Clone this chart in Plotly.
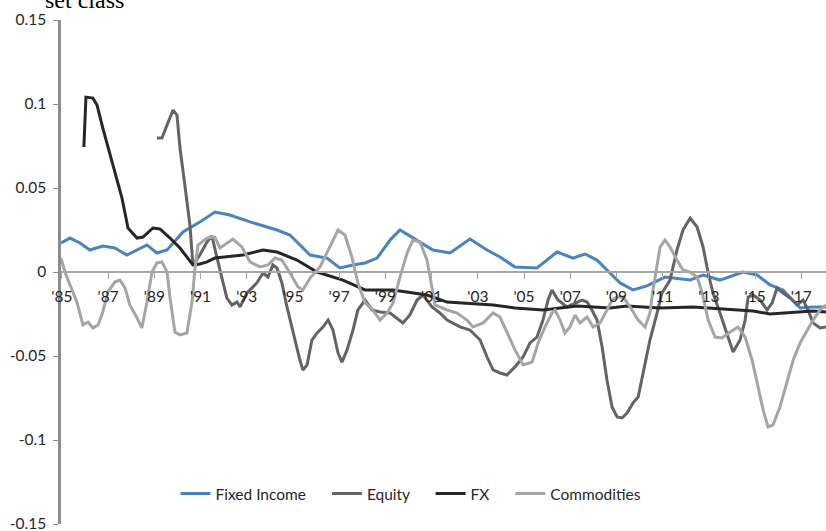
import plotly.graph_objects as go

# ---- data (decimal year, value) ----
fi_years = [1984.96, 1985.35, 1985.78, 1986.21, 1986.77, 1987.29, 1987.81, 1988.25, 1988.68, 1989.11,
            1989.55, 1990.24, 1990.97, 1991.62, 1992.27, 1993.14, 1994.31, 1994.87, 1995.74, 1996.47,
            1997.03, 1997.60, 1998.12, 1998.64, 1999.20, 1999.63, 2000.19, 2001.06, 2001.80, 2002.66,
            2003.40, 2003.96, 2004.61, 2005.56, 2006.43, 2007.12, 2007.64, 2008.16, 2008.72, 2009.16,
            2009.72, 2010.32, 2011.10, 2012.19, 2012.75, 2013.48, 2014.48, 2015.09, 2015.65, 2016.21,
            2016.95, 2017.51, 2018.07]
fi_values = [0.0173, 0.0202, 0.0173, 0.0131, 0.0155, 0.0143, 0.0101, 0.0131, 0.0161, 0.0113,
             0.0131, 0.0238, 0.0298, 0.0357, 0.0339, 0.0298, 0.0250, 0.0220, 0.0101, 0.0083,
             0.0024, 0.0042, 0.0054, 0.0083, 0.0190, 0.0250, 0.0202, 0.0131, 0.0113, 0.0196,
             0.0131, 0.0089, 0.0030, 0.0024, 0.0119, 0.0083, 0.0107, 0.0071, -0.0006, -0.0065,
             -0.0107, -0.0083, -0.0030, -0.0048, -0.0018, -0.0048, 0.0000, -0.0018, -0.0077, -0.0107,
             -0.0214, -0.0208, -0.0208]

eq_years = [1989.11, 1989.33, 1989.55, 1989.81, 1989.98, 1990.11, 1990.32, 1990.54, 1990.67, 1990.97,
            1991.28, 1991.49, 1991.84, 1992.14, 1992.36, 1992.58, 1992.71, 1993.01, 1993.44, 1993.70,
            1993.92, 1994.13, 1994.31, 1994.52, 1994.74, 1995.00, 1995.30, 1995.43, 1995.61, 1995.82,
            1996.04, 1996.30, 1996.52, 1996.73, 1996.95, 1997.12, 1997.34, 1997.60, 1997.81, 1998.12,
            1998.42, 1998.77, 1999.20, 1999.76, 2000.06, 2000.37, 2000.63, 2001.02, 2001.36, 2001.67,
            2002.23, 2002.66, 2003.10, 2003.40, 2003.66, 2003.96, 2004.26, 2004.61, 2004.96, 2005.26,
            2005.56, 2005.82, 2006.04, 2006.21, 2006.47, 2006.86, 2007.21, 2007.51, 2007.73, 2007.94,
            2008.16, 2008.38, 2008.59, 2008.81, 2009.03, 2009.24, 2009.46, 2009.72, 2009.94, 2010.15,
            2010.45, 2010.76, 2010.97, 2011.32, 2011.62, 2011.88, 2012.19, 2012.49, 2012.75, 2012.97,
            2013.18, 2013.48, 2013.79, 2014.05, 2014.35, 2014.57, 2014.70, 2014.91, 2015.22, 2015.52,
            2015.74, 2015.95, 2016.21, 2016.52, 2016.82, 2017.08, 2017.29, 2017.51, 2017.81, 2018.07]
eq_values = [0.0797, 0.0797, 0.0875, 0.0964, 0.0934, 0.0738, 0.0518, 0.0280, 0.0042, 0.0101,
             0.0179, 0.0214, 0.0012, -0.0155, -0.0196, -0.0179, -0.0208, -0.0125, -0.0065, -0.0006,
             -0.0030, 0.0042, 0.0024, -0.0065, -0.0208, -0.0363, -0.0524, -0.0583, -0.0553, -0.0405,
             -0.0363, -0.0327, -0.0286, -0.0345, -0.0482, -0.0536, -0.0464, -0.0345, -0.0226, -0.0167,
             -0.0226, -0.0238, -0.0244, -0.0303, -0.0256, -0.0167, -0.0137, -0.0208, -0.0244, -0.0286,
             -0.0327, -0.0345, -0.0405, -0.0506, -0.0583, -0.0601, -0.0613, -0.0565, -0.0506, -0.0422,
             -0.0387, -0.0286, -0.0167, -0.0107, -0.0167, -0.0208, -0.0184, -0.0167, -0.0179, -0.0226,
             -0.0286, -0.0446, -0.0643, -0.0803, -0.0863, -0.0869, -0.0839, -0.0779, -0.0744, -0.0601,
             -0.0405, -0.0244, -0.0125, -0.0048, 0.0131, 0.0250, 0.0321, 0.0268, 0.0149, -0.0006,
             -0.0125, -0.0244, -0.0363, -0.0476, -0.0405, -0.0286, -0.0149, -0.0137, -0.0167, -0.0226,
             -0.0184, -0.0095, -0.0125, -0.0155, -0.0196, -0.0167, -0.0226, -0.0303, -0.0333, -0.0327]

fx_years = [1985.95, 1986.04, 1986.34, 1986.52, 1986.77, 1987.21, 1987.60, 1987.86, 1988.25, 1988.51,
            1988.94, 1989.24, 1989.68, 1990.11, 1990.67, 1990.97, 1991.28, 1991.62, 1992.84, 1993.70,
            1994.31, 1995.17, 1996.04, 1997.16, 1998.12, 1999.33, 2000.80, 2001.67, 2003.66, 2004.61,
            2005.82, 2007.29, 2008.72, 2009.46, 2010.89, 2012.32, 2014.91, 2015.65, 2016.65, 2017.51,
            2018.07]
fx_values = [0.0744, 0.1041, 0.1035, 0.0994, 0.0857, 0.0637, 0.0440, 0.0262, 0.0202, 0.0208,
             0.0262, 0.0256, 0.0202, 0.0143, 0.0042, 0.0048, 0.0060, 0.0083, 0.0101, 0.0131,
             0.0119, 0.0071, 0.0000, -0.0048, -0.0107, -0.0107, -0.0137, -0.0179, -0.0196, -0.0214,
             -0.0226, -0.0202, -0.0214, -0.0202, -0.0214, -0.0208, -0.0232, -0.0250, -0.0238, -0.0232,
             -0.0238]

cm_years = [1984.96, 1985.13, 1985.35, 1985.65, 1985.91, 1986.13, 1986.34, 1986.56, 1986.77, 1986.99,
            1987.29, 1987.51, 1987.73, 1987.94, 1988.25, 1988.46, 1988.68, 1988.90, 1989.11, 1989.33,
            1989.55, 1989.68, 1989.89, 1990.11, 1990.41, 1990.63, 1990.76, 1990.89, 1991.28, 1991.62,
            1991.84, 1992.40, 1992.79, 1993.14, 1993.57, 1993.92, 1994.22, 1994.52, 1994.87, 1995.22,
            1995.43, 1995.74, 1996.17, 1996.60, 1996.95, 1997.25, 1997.55, 1997.81, 1998.12, 1998.46,
            1998.77, 1999.07, 1999.33, 1999.63, 1999.94, 2000.19, 2000.50, 2000.80, 2001.02, 2001.15,
            2001.67, 2002.10, 2002.53, 2002.79, 2003.23, 2003.66, 2003.96, 2004.26, 2004.61, 2004.96,
            2005.35, 2005.61, 2005.91, 2006.21, 2006.34, 2006.56, 2006.77, 2006.99, 2007.21, 2007.42,
            2007.73, 2007.99, 2008.29, 2008.59, 2008.81, 2009.03, 2009.29, 2009.59, 2009.94, 2010.24,
            2010.45, 2010.58, 2010.76, 2010.89, 2011.10, 2011.32, 2011.62, 2011.88, 2012.19, 2012.49,
            2012.71, 2012.97, 2013.27, 2013.57, 2013.92, 2014.26, 2014.57, 2014.87, 2015.13, 2015.35,
            2015.56, 2015.78, 2016.08, 2016.39, 2016.65, 2016.95, 2017.25, 2017.51, 2017.81, 2018.07]
cm_values = [0.0083, 0.0000, -0.0077, -0.0179, -0.0315, -0.0298, -0.0333, -0.0315, -0.0238, -0.0119,
             -0.0060, -0.0048, -0.0095, -0.0196, -0.0274, -0.0333, -0.0179, 0.0000, 0.0054, 0.0060,
             0.0000, -0.0155, -0.0357, -0.0375, -0.0363, -0.0179, 0.0024, 0.0161, 0.0202, 0.0208,
             0.0143, 0.0196, 0.0149, 0.0060, 0.0030, 0.0042, 0.0083, 0.0071, -0.0006, -0.0089,
             -0.0107, -0.0036, 0.0030, 0.0149, 0.0250, 0.0220, 0.0089, -0.0065, -0.0184, -0.0226,
             -0.0286, -0.0244, -0.0184, -0.0030, 0.0113, 0.0190, 0.0179, 0.0071, -0.0107, -0.0196,
             -0.0226, -0.0244, -0.0286, -0.0327, -0.0303, -0.0244, -0.0268, -0.0363, -0.0464, -0.0553,
             -0.0536, -0.0422, -0.0327, -0.0244, -0.0226, -0.0286, -0.0363, -0.0327, -0.0256, -0.0303,
             -0.0268, -0.0327, -0.0303, -0.0226, -0.0167, -0.0149, -0.0149, -0.0208, -0.0286, -0.0327,
             -0.0244, -0.0107, 0.0030, 0.0149, 0.0190, 0.0149, 0.0071, 0.0012, 0.0000, -0.0030,
             -0.0125, -0.0286, -0.0387, -0.0393, -0.0357, -0.0327, -0.0387, -0.0524, -0.0684, -0.0821,
             -0.0922, -0.0910, -0.0803, -0.0643, -0.0524, -0.0422, -0.0345, -0.0286, -0.0226, -0.0196]

x_tick_vals = [1985, 1987, 1989, 1991, 1993, 1995, 1997, 1999, 2001, 2003, 2005, 2007, 2009,
               2011, 2013, 2015, 2017]
x_tick_text = ["'85", "'87", "'89", "'91", "'93", "'95", "'97", "'99", "'01", "'03", "'05", "'07",
               "'09", "'11", "'13", "'15", "'17"]
y_tick_vals = [-0.15, -0.1, -0.05, 0, 0.05, 0.1, 0.15]
y_tick_text = ["-0.15", "-0.1", "-0.05", "0", "0.05", "0.1", "0.15"]

series_names = ["Fixed Income", "Equity", "FX", "Commodities"]
series_colors = ["#4a84bd", "#646464", "#262626", "#a5a5a5"]
series_data = [(fi_years, fi_values), (eq_years, eq_values), (fx_years, fx_values), (cm_years, cm_values)]

PAD = "\u00a0\u00a0\u00a0\u00a0"  # spacing between legend entries

fig = go.Figure()
for i, (name, col, (xs, ys)) in enumerate(zip(series_names, series_colors, series_data)):
    label = name + (PAD if i < len(series_names) - 1 else "")
    fig.add_trace(go.Scatter(x=xs, y=ys, mode="lines", name=label,
                             line=dict(color=col, width=3)))

FONT = "Lato, Carlito, Calibri, sans-serif"

fig.update_layout(
    width=826, height=531,
    margin=dict(l=61, r=0, t=20, b=7),
    paper_bgcolor="white", plot_bgcolor="white",
    font=dict(family=FONT, size=15.5, color="#262626"),
    showlegend=True,
    legend=dict(orientation="h", x=0.4575, xanchor="center", y=0.0595, yanchor="middle",
                font=dict(family=FONT, size=15.5, color="#262626"),
                bgcolor="rgba(0,0,0,0)", itemwidth=30, tracegroupgap=0),
    xaxis=dict(range=[1984.96, 2018.07], anchor="free", position=0.5, automargin=False,
               showline=True, linecolor="#a6a6a6", linewidth=1.5,
               ticks="outside", ticklen=6, tickcolor="#a6a6a6", tickwidth=1,
               tickvals=x_tick_vals, ticktext=x_tick_text, ticklabelstandoff=5,
               ticklabeloverflow="allow",
               showgrid=False, zeroline=False,
               tickfont=dict(family=FONT, size=15.5, color="#262626")),
    yaxis=dict(range=[-0.15, 0.15], automargin=False,
               showline=True, linecolor="#8c8c8c", linewidth=2.5,
               ticks="outside", ticklen=5, tickcolor="#8c8c8c", tickwidth=1,
               tickvals=y_tick_vals, ticktext=y_tick_text, ticklabelstandoff=4,
               ticklabeloverflow="allow",
               showgrid=False, zeroline=False,
               tickfont=dict(family=FONT, size=15.5, color="#262626")),
    annotations=[dict(text="set class", xref="paper", yref="paper", x=-0.0235, y=1.010,
                      xanchor="left", yanchor="bottom", showarrow=False,
                      font=dict(family="Liberation Serif, Times New Roman, serif", size=24,
                                color="black"))],
)

fig.write_html("out.html", config={"displayModeBar": False},
               post_script="document.body.style.margin='0';")
